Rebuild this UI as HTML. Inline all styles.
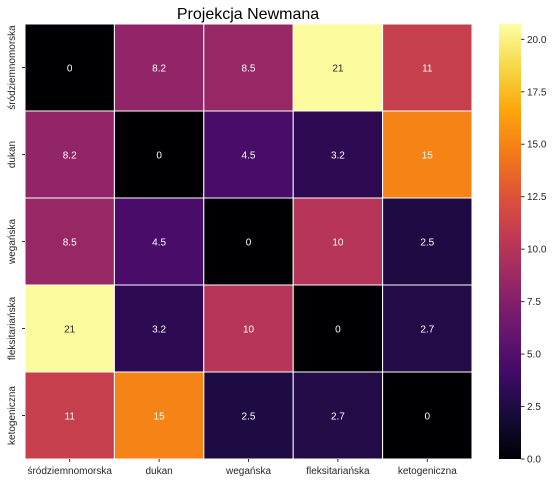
<!DOCTYPE html>
<html><head><meta charset="utf-8"><style>
body{margin:0;background:#fff;}
svg text{font-family:"Liberation Sans","DejaVu Sans",sans-serif;}
</style></head><body>
<svg id="chart" width="557" height="484" xmlns="http://www.w3.org/2000/svg">
<defs><linearGradient id="cbg" x1="0" y1="1" x2="0" y2="0"></linearGradient></defs>
<text x="248" y="19" font-size="16" text-anchor="middle" fill="#000">Projekcja Newmana</text>
<g id="cells"></g><g id="labels"></g><g id="cbar"></g>
</svg>
<script>
const categories=["śródziemnomorska","dukan","wegańska","fleksitariańska","ketogeniczna"];
const row0=[0,8.2,8.5,20.6,11];
const row1=[8.2,0,4.5,3.2,15];
const row2=[8.5,4.5,0,10,2.5];
const row3=[20.6,3.2,10,0,2.7];
const row4=[11,15,2.5,2.7,0];
const labels0=["0","8.2","8.5","21","11"];
const labels1=["8.2","0","4.5","3.2","15"];
const labels2=["8.5","4.5","0","10","2.5"];
const labels3=["21","3.2","10","0","2.7"];
const labels4=["11","15","2.5","2.7","0"];
const cbTicks=[0,2.5,5,7.5,10,12.5,15,17.5,20];
const vmin=0,vmax=20.73;
const rows=[row0,row1,row2,row3,row4],labs=[labels0,labels1,labels2,labels3,labels4];
const stops=[[0,0,0,4],[0.1,22,11,57],[0.2,66,10,104],[0.3,106,23,110],[0.4,147,38,103],[0.5,188,55,84],[0.6,221,81,58],[0.7,243,120,25],[0.8,252,165,10],[0.9,246,215,70],[1,252,255,164]];
function inferno(t){t=Math.max(0,Math.min(1,t));for(let i=1;i<stops.length;i++){if(t<=stops[i][0]){const a=stops[i-1],b=stops[i],f=(t-a[0])/(b[0]-a[0]);return `rgb(${[1,2,3].map(k=>Math.round(a[k]+(b[k]-a[k])*f)).join(",")})`;}}return "rgb(252,255,164)";}
const X0=25,X1=472,Y0=24,Y1=459,n=5,cw=(X1-X0)/n,ch=(Y1-Y0)/n;
const xs=i=>X0+i*cw, ys=j=>Y0+j*ch;
const NS="http://www.w3.org/2000/svg";
const cells=document.getElementById("cells"),lg=document.getElementById("labels"),cb=document.getElementById("cbar");
function mk(tag,at,p){const e=document.createElementNS(NS,tag);for(const k in at)e.setAttribute(k,at[k]);p.appendChild(e);return e;}
rows.forEach((r,j)=>r.forEach((v,i)=>{
 const t=(v-vmin)/(vmax-vmin);
 const c=mk("rect",{x:xs(i),y:ys(j),width:cw,height:ch,fill:inferno(t),stroke:"#fff","stroke-width":1},cells);
 
 
 const tx=mk("text",{x:xs(i)+cw/2,y:ys(j)+ch/2+4,"font-size":10,"text-anchor":"middle",fill:t>0.8?"#262626":"#fff"},cells);
 tx.textContent=labs[j][i];
 
 
}));
categories.forEach((c,i)=>{
 const t=mk("text",{x:xs(i)+cw/2,y:474,"font-size":10,"text-anchor":"middle",fill:"#262626"},lg);
 t.textContent=c;
 
 
 const cy=ys(i)+ch/2;
 const t2=mk("text",{x:15,y:cy,"font-size":10,"text-anchor":"middle",fill:"#262626",transform:`rotate(-90 15 ${cy})`},lg);
 t2.textContent=c;
 
 
 mk("line",{x1:xs(i)+cw/2,x2:xs(i)+cw/2,y1:Y1,y2:Y1+3,stroke:"#333"},lg);
 mk("line",{x1:X0-3,x2:X0,y1:cy,y2:cy,stroke:"#333"},lg);
});
const g=document.getElementById("cbg");
for(let k=0;k<=20;k++){mk("stop",{offset:k/20,"stop-color":inferno(k/20)},g);}
const CX=499,CW=22,cby=v=>Y1-(v-vmin)/(vmax-vmin)*(Y1-Y0);
const bar=mk("rect",{x:CX,y:Y0,width:CW,height:Y1-Y0,fill:"url(#cbg)"},cb);


cbTicks.forEach(v=>{
 const y=cby(v);
 mk("line",{x1:CX+CW,x2:CX+CW+3.5,y1:y,y2:y,stroke:"#333"},cb);
 const t=mk("text",{x:CX+CW+6,y:y+3.5,"font-size":10,fill:"#262626"},cb);
 t.textContent=v.toFixed(1);
 
 
});
</script>
</body></html>
